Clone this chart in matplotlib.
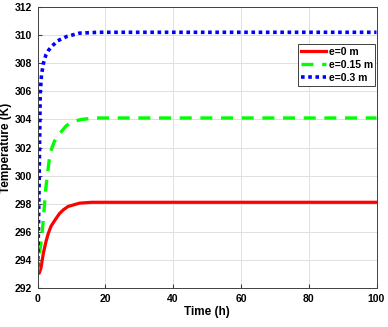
import numpy as np
import matplotlib.pyplot as plt

plt.rcParams['font.family'] = ['Liberation Sans', 'DejaVu Sans']
plt.rcParams['font.weight'] = 'bold'

# Temperature curves
t_red = [0, 0.5, 1, 1.75, 2.5, 3.2, 4, 5.2, 6.5, 7.6, 9, 12.4, 16, 100]
T_red = [293.05, 293.05, 293.4, 294.5, 295.3, 295.9, 296.4, 296.85, 297.3, 297.56, 297.8, 298.04, 298.1, 298.1]

t_green = [0, 0.6, 1.3, 2.5, 3.7, 5, 6.6, 8.5, 10.5, 13, 17, 100]
T_green = [293.0, 294.5, 295.7, 299.2, 301.6, 302.45, 303.0, 303.55, 303.85, 304.0, 304.1, 304.1]

t_blue = [0, 0.2, 0.4, 0.6, 0.8, 1.2, 1.75, 2.5, 3.2, 4.2, 6, 8.6, 12.4, 18, 100]
T_blue = [293.0, 295.0, 298.0, 302.0, 305.9, 307.2, 308.0, 308.6, 308.9, 309.2, 309.6, 309.9, 310.14, 310.2, 310.2]

labels = ['e=0 m', 'e=0.15 m', 'e=0.3 m']

fig = plt.figure(figsize=(3.88, 3.27), dpi=100)
ax = fig.add_axes([37.5/388, 1 - 288/327, 339/388, 281/327])

ax.plot(t_red, T_red, color='#ff0000', lw=2.3, label=labels[0])
ax.plot(t_green, T_green, color='#00ff00', lw=2.4, ls=(0, (3.6, 2.6)), label=labels[1])
ax.plot(t_blue, T_blue, color='#0000ff', lw=2.6, ls=(0, (1, 1)), label=labels[2])

ax.set_xlim(0, 100)
ax.set_ylim(292, 312)
ax.set_xticks(np.arange(0, 101, 20))
ax.set_yticks(np.arange(292, 313, 2))
ax.grid(True, color='#e0e0e0', lw=0.7)
ax.tick_params(direction='in', labelsize=7.5, length=3, color='#404040', pad=4)
for s in ax.spines.values():
    s.set_color('#404040')
    s.set_linewidth(0.7)

ax.set_xlabel('Time (h)', fontsize=8.5, fontweight='bold', labelpad=2)
ax.set_ylabel('Temperature (K)', fontsize=8.5, fontweight='bold')
ax.yaxis.set_label_coords(-0.074, 0.5)

leg = ax.legend(loc='upper right', bbox_to_anchor=(1.0, 0.871), fontsize=7.5,
                fancybox=False, framealpha=1, edgecolor='#404040',
                handlelength=2.4, borderpad=0.25, labelspacing=0.3, handletextpad=0.3,
                borderaxespad=0.1)
leg.get_frame().set_linewidth(0.7)

fig.savefig('out.png', dpi=100)
